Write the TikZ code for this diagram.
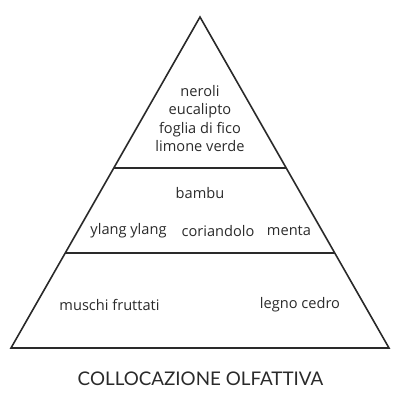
\documentclass[tikz,border=0pt]{standalone}
\usepackage{fontspec}
\setmainfont{Open Sans}[Ligatures=NoCommon]
\newfontfamily\titlefont{Lato}[Ligatures=NoCommon]
\begin{document}
\begin{tikzpicture}[x=1pt,y=-1pt,
  edge/.style={draw=ink,line width=1.6pt,line join=miter},
  note/.style={text=ink,font=\fontsize{14.6}{18.3}\selectfont,inner sep=0pt,align=center},
  caption/.style={text=ink,font=\titlefont\fontsize{18.8}{24}\selectfont,inner sep=0pt}]
\definecolor{ink}{HTML}{2A2A2A}
\useasboundingbox (0,0) rectangle (400,400);
\coordinate (apex) at (200,17);
\coordinate (bl) at (11,348);
\coordinate (br) at (389,348);
\coordinate (l1) at (114,168);
\coordinate (r1) at (286,168);
\coordinate (l2) at (65,253);
\coordinate (r2) at (335,253);
\draw[edge] (apex) -- (br) -- (bl) -- cycle;
\draw[edge] (l1) -- (r1);
\draw[edge] (l2) -- (r2);
\node[note] (top) at (200,118.5) {neroli\\eucalipto\\foglia di fico\\limone verde};
\node[note] (bambu) at (200,193) {bambu};
\node[note] (ylang) at (128.5,231) {ylang ylang};
\node[note] (cori) at (218,231) {coriandolo};
\node[note] (menta) at (289,231) {menta};
\node[note] (musc) at (109.5,305) {muschi fruttati};
\node[note] (legno) at (300,305) {legno cedro};
\node[caption] (title) at (200.5,379) {COLLOCAZIONE OLFATTIVA};
\end{tikzpicture}
\end{document}
